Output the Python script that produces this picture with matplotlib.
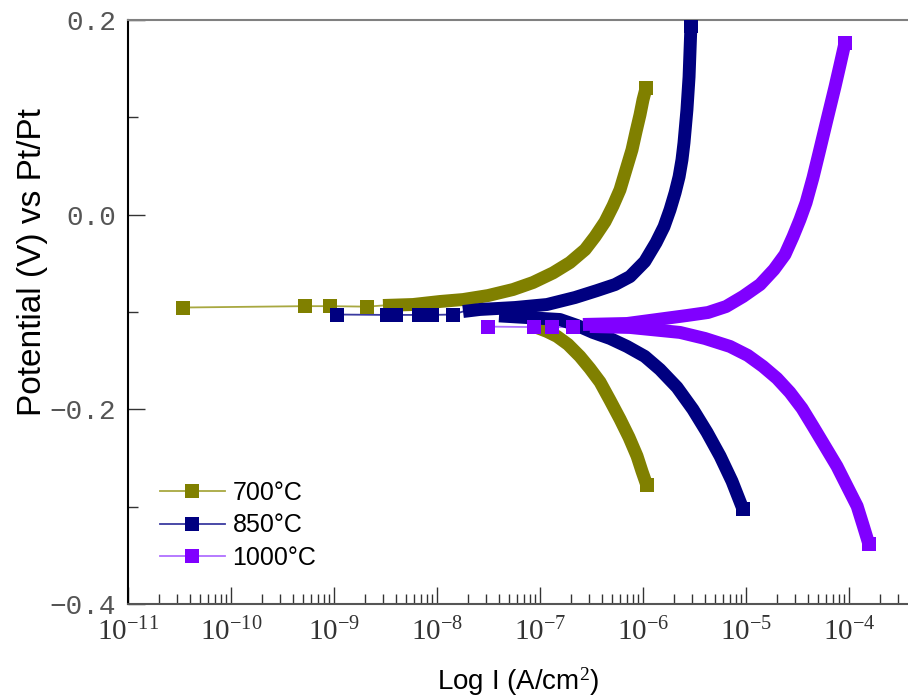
import numpy as np
import matplotlib
matplotlib.use("Agg")
import matplotlib.pyplot as plt
from matplotlib.lines import Line2D
from matplotlib.ticker import FixedLocator, FuncFormatter, MultipleLocator, NullFormatter

# ---------------- data ----------------
labels = ["700°C", "850°C", "1000°C"]
colors = ["#808000", "#000080", "#8000FF"]
thin_colors = ["#a8a840", "#3a3aa0", "#b070ff"]
x_decades = [-11, -10, -9, -8, -7, -6, -5, -4]

# 700 °C
e700_cath = [-0.278, -0.2636, -0.248, -0.2287, -0.210, -0.1908, -0.172, -0.158, -0.1456,
             -0.1333, -0.125, -0.120, -0.116]
i700_cath = [1.09e-6, 9.77e-7, 8.75e-7, 7.31e-7, 5.98e-7, 4.79e-7, 3.83e-7, 3.05e-7, 2.44e-7,
             1.87e-7, 1.46e-7, 1.17e-7, 9.35e-8]
e700_mid = [-0.0954, -0.094, -0.094, -0.0945]
i700_mid = [3.4e-11, 5.2e-10, 9.1e-10, 2.1e-9]
e700_anod = [-0.0933, -0.0923, -0.0892, -0.0872, -0.0831, -0.0769, -0.0697, -0.0598, -0.0492,
             -0.0359, -0.0226, -0.0072, 0.0092, 0.0256, 0.0462, 0.0667, 0.0851, 0.1026, 0.118, 0.130]
i700_anod = [2.99e-9, 5.85e-9, 1.07e-8, 1.79e-8, 3.13e-8, 5.47e-8, 8.55e-8, 1.34e-7, 1.95e-7,
             2.74e-7, 3.42e-7, 4.28e-7, 5.12e-7, 5.98e-7, 6.84e-7, 7.82e-7, 8.55e-7, 9.35e-7, 1.0e-6, 1.07e-6]

# 850 °C
e850_cath = [-0.3026, -0.2738, -0.248, -0.2236, -0.200, -0.1774, -0.159, -0.1456, -0.1354,
             -0.1272, -0.121, -0.1138, -0.1077, -0.104]
i850_cath = [9.35e-6, 7.31e-6, 5.6e-6, 4.18e-6, 3.05e-6, 2.14e-6, 1.46e-6, 1.04e-6, 7.0e-7,
             4.79e-7, 3.27e-7, 2.29e-7, 1.56e-7, 4.0e-8]
e850_mid = [-0.1026, -0.103, -0.103, -0.103, -0.103, -0.1026]
i850_mid = [1.06e-9, 3.27e-9, 4.0e-9, 6.68e-9, 8.93e-9, 1.43e-8]
e850_anod = [-0.0995, -0.0974, -0.0954, -0.0923, -0.0851, -0.078, -0.0718, -0.0636, -0.0482,
             -0.0287, -0.0123, 0.0051, 0.0226, 0.039, 0.0564, 0.0738, 0.1077, 0.1415, 0.194]
i850_anod = [1.79e-8, 2.61e-8, 5.71e-8, 1.17e-7, 2.19e-7, 3.57e-7, 5.35e-7, 7.48e-7, 1.04e-6,
             1.34e-6, 1.60e-6, 1.83e-6, 2.05e-6, 2.24e-6, 2.39e-6, 2.50e-6, 2.67e-6, 2.80e-6, 2.92e-6]

# 1000 °C
e1000_cath = [-0.3385, -0.319, -0.2995, -0.279, -0.2585, -0.238, -0.2174, -0.199, -0.1826,
              -0.1682, -0.1559, -0.1446, -0.1354, -0.1272, -0.121, -0.1159, -0.1149]
i1000_cath = [1.56e-4, 1.37e-4, 1.20e-4, 9.57e-5, 7.64e-5, 5.85e-5, 4.47e-5, 3.5e-5, 2.67e-5,
              2.0e-5, 1.46e-5, 1.04e-5, 7.0e-6, 4.0e-6, 2.29e-6, 7.48e-7, 3.05e-7]
e1000_mid = [-0.115, -0.1155, -0.1155, -0.1155]
i1000_mid = [3.1e-8, 8.7e-8, 1.3e-7, 2.1e-7]
e1000_anod = [-0.1128, -0.1118, -0.1036, -0.1005, -0.0944, -0.0841, -0.0718, -0.0564, -0.041,
              -0.0226, -0.0051, 0.0123, 0.038, 0.0636, 0.0974, 0.1313, 0.1538, 0.1764]
i1000_anod = [2.61e-7, 7.0e-7, 2.67e-6, 4.28e-6, 6.4e-6, 9.35e-6, 1.37e-5, 1.87e-5, 2.39e-5,
              2.86e-5, 3.34e-5, 3.83e-5, 4.47e-5, 5.12e-5, 6.11e-5, 7.31e-5, 8.18e-5, 9.14e-5]

series = [
    (e700_cath, i700_cath, e700_mid, i700_mid, e700_anod, i700_anod),
    (e850_cath, i850_cath, e850_mid, i850_mid, e850_anod, i850_anod),
    (e1000_cath, i1000_cath, e1000_mid, i1000_mid, e1000_anod, i1000_anod),
]

# ---------------- figure ----------------
plt.rcParams['mathtext.fontset'] = 'custom'
plt.rcParams['mathtext.rm'] = 'Liberation Serif'
plt.rcParams['mathtext.it'] = 'Liberation Serif:italic'

fig = plt.figure(figsize=(9.08, 6.98), dpi=100)
ax = fig.add_axes([128 / 908, (698 - 604) / 698, 780 / 908, 584 / 698])

BAND = 9.3
MS = 9.5
for (ec, ic, em, im, ea, ia), col, tcol in zip(series, colors, thin_colors):
    ax.plot(im + [ia[0]], em + [ea[0]], color=tcol, lw=1.3, zorder=2)
    ax.plot(ic, ec, color=col, lw=BAND, solid_capstyle='butt', solid_joinstyle='round', zorder=3)
    ax.plot(ia, ea, color=col, lw=BAND, solid_capstyle='butt', solid_joinstyle='round', zorder=3)
    ax.plot([ic[0], ia[-1]], [ec[0], ea[-1]], 's', color=col, ms=MS, mew=0, zorder=3)
    ax.plot(im, em, 's', color=col, ms=MS, mew=0, zorder=4)

ax.set_xscale('log')
xmax = 10 ** (-11 + 780 / 103)
ax.set_xlim(1e-11, xmax)
ax.set_ylim(-0.4, 0.2)

major_x = [10.0 ** d for d in x_decades]
minor_x = [m * 10.0 ** d for d in x_decades for m in range(2, 10) if m * 10.0 ** d < xmax]
ax.xaxis.set_major_locator(FixedLocator(major_x))
ax.xaxis.set_minor_locator(FixedLocator(minor_x))
ax.xaxis.set_major_formatter(FuncFormatter(lambda v, p: r'$\mathrm{10^{%d}}$' % round(np.log10(v))))
ax.xaxis.set_minor_formatter(NullFormatter())
ax.yaxis.set_major_locator(MultipleLocator(0.2))
ax.yaxis.set_minor_locator(MultipleLocator(0.1))
ax.yaxis.set_major_formatter(FuncFormatter(lambda v, p: ('%.1f' % v).replace('-', '\u2212') if abs(v) > 1e-9 else '0.0'))

ax.tick_params(which='both', direction='in', top=False, right=False, colors='#333333')
ax.tick_params(which='major', length=12, width=1)
ax.tick_params(which='minor', length=7, width=1)
ax.tick_params(axis='x', which='major', labelsize=21, pad=10, labelcolor='#333333')
ax.tick_params(axis='y', which='major', labelsize=20, pad=8.5, labelcolor='#555555')
for lbl in ax.get_yticklabels():
    lbl.set_fontfamily('Liberation Mono')

ax.spines['right'].set_visible(False)
ax.spines['top'].set_color('#808080')
ax.spines['bottom'].set_color('#555555')
ax.spines['left'].set_color('#000000')
for s in ax.spines.values():
    s.set_linewidth(1.5)

ax.set_xlabel('Log I (A/cm$^2$)', fontsize=20, family='Liberation Sans', labelpad=14)
ax.set_ylabel('Potential (V) vs Pt/Pt', fontsize=24, family='Liberation Sans')
ax.yaxis.set_label_coords(-0.102, 0.586)

handles = [Line2D([0], [0], color=tc, lw=1.3, marker='s', ms=MS, mfc=c, mec=c, mew=0)
           for c, tc in zip(colors, thin_colors)]
leg = ax.legend(handles, labels, loc='lower left', bbox_to_anchor=(0.041, 0.058),
                frameon=False, prop={'family': 'Liberation Sans', 'size': 18},
                handlelength=2.6, handletextpad=0.3, labelspacing=0.35,
                borderpad=0, borderaxespad=0, numpoints=1)

fig.savefig('out.png', dpi=100)
